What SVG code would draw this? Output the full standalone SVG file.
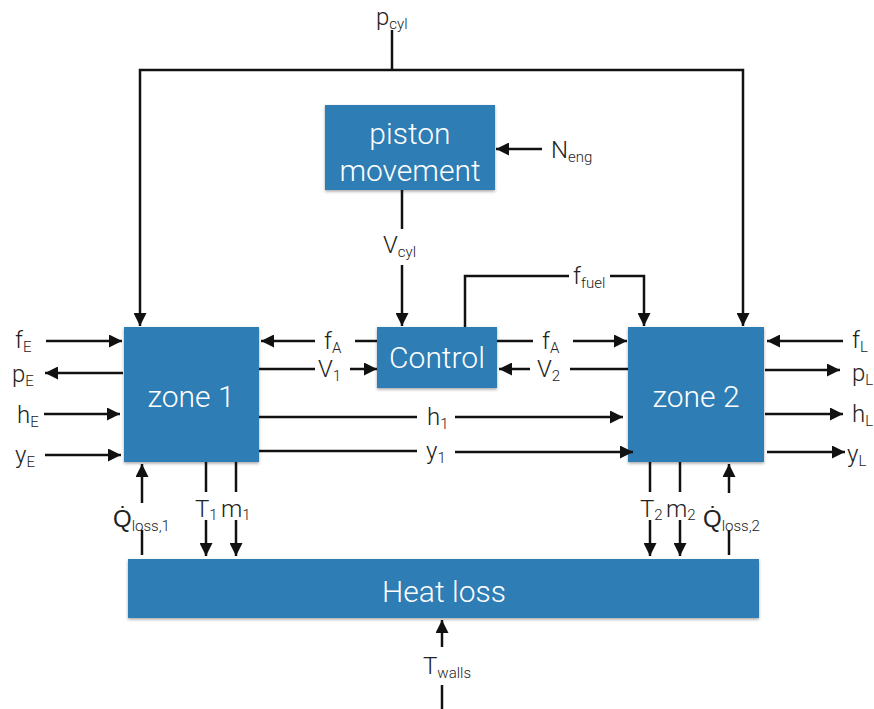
<svg xmlns="http://www.w3.org/2000/svg" width="874" height="709" viewBox="0 0 874 709">
<defs>
<marker id="ah" markerUnits="userSpaceOnUse" markerWidth="13" markerHeight="13" refX="13" refY="6.5" orient="auto">
<path d="M0,0 L13,6.5 L0,13 z" fill="#111"/>
</marker>
<filter id="sh" x="-5%" y="-5%" width="110%" height="120%">
<feDropShadow dx="0" dy="1.5" stdDeviation="1.5" flood-color="#000" flood-opacity="0.35"/>
</filter>
<style>
.box{fill:#2f7db5;filter:url(#sh)}
.nt{font-family:Roboto,"Liberation Sans",sans-serif;font-weight:300;font-size:30px;fill:#fff;text-anchor:middle}
.lb{font-family:Roboto,"Liberation Sans",sans-serif;font-weight:300;font-size:24px;fill:#222}
.sb{font-size:15px}
.c{fill:none;stroke:#111;stroke-width:2.5}
.a{marker-end:url(#ah)}
</style>
</defs>
<rect width="874" height="709" fill="#fff"/>

<g id="piston">
<rect class="box" x="325" y="105" width="170" height="85"/>
<text class="nt" x="410" y="144">piston</text>
<text class="nt" x="410" y="181">movement</text>
</g>
<g id="control">
<rect class="box" x="377" y="327" width="120" height="61"/>
<text class="nt" x="437" y="368">Control</text>
</g>
<g id="zone1">
<rect class="box" x="124" y="327" width="135" height="135"/>
<text class="nt" x="191" y="407">zone 1</text>
</g>
<g id="zone2">
<rect class="box" x="628" y="327" width="136" height="135"/>
<text class="nt" x="696" y="407">zone 2</text>
</g>
<g id="heatloss">
<rect class="box" x="128" y="559" width="631" height="59"/>
<text class="nt" x="444" y="602">Heat loss</text>
</g>

<g id="connectors">
<path class="c" d="M392,30 V70"/>
<path class="c a" d="M392,70 H140 V326"/>
<path class="c a" d="M392,70 H743 V326"/>
<path class="c a" d="M542,149 H496"/>
<path class="c" d="M402,190 V229"/>
<path class="c a" d="M402,265 V326"/>
<path class="c" d="M465,327 V276 H569"/>
<path class="c a" d="M610,276 H644 V326"/>
<path class="c" d="M377,341 H355"/>
<path class="c a" d="M315,341 H261"/>
<path class="c" d="M259,369 H315"/>
<path class="c a" d="M350,369 H377"/>
<path class="c" d="M497,341 H533"/>
<path class="c a" d="M573,341 H627"/>
<path class="c" d="M628,369 H570"/>
<path class="c a" d="M530,369 H499"/>
<path class="c" d="M259,417 H417"/>
<path class="c a" d="M455,417 H623"/>
<path class="c" d="M259,451 H417"/>
<path class="c a" d="M455,452 H633"/>
<path class="c a" d="M46,341 H122"/>
<path class="c a" d="M123,373 H45"/>
<path class="c a" d="M44,414 H120"/>
<path class="c a" d="M45,455 H121"/>
<path class="c a" d="M843,341 H767"/>
<path class="c a" d="M765,370 H840"/>
<path class="c a" d="M765,414 H843"/>
<path class="c a" d="M767,452 H845"/>
<path class="c a" d="M142,503 V464"/>
<path class="c" d="M142,530 V555"/>
<path class="c" d="M206,462 V492"/>
<path class="c a" d="M206,520 V556"/>
<path class="c" d="M236,462 V492"/>
<path class="c a" d="M236,520 V556"/>
<path class="c" d="M650,462 V492"/>
<path class="c a" d="M650,520 V556"/>
<path class="c" d="M680,462 V492"/>
<path class="c a" d="M680,520 V556"/>
<path class="c a" d="M729,493 V464"/>
<path class="c" d="M729,530 V555"/>
<path class="c a" d="M442,647 V620"/>
<path class="c" d="M442,685 V709"/>
</g>

<g id="labels">
<text class="lb" x="376" y="25">p<tspan class="sb" dy="4">cyl</tspan></text>
<text class="lb" x="551" y="158">N<tspan class="sb" dy="4">eng</tspan></text>
<text class="lb" x="383" y="253">V<tspan class="sb" dy="4">cyl</tspan></text>
<text class="lb" x="573" y="284">f<tspan class="sb" dy="4">fuel</tspan></text>
<text class="lb" x="324" y="349">f<tspan class="sb" dy="4">A</tspan></text>
<text class="lb" x="318" y="377">V<tspan class="sb" dy="4">1</tspan></text>
<text class="lb" x="542" y="349">f<tspan class="sb" dy="4">A</tspan></text>
<text class="lb" x="537" y="377">V<tspan class="sb" dy="4">2</tspan></text>
<text class="lb" x="427" y="425">h<tspan class="sb" dy="4">1</tspan></text>
<text class="lb" x="426" y="459">y<tspan class="sb" dy="4">1</tspan></text>
<text class="lb" x="15" y="348">f<tspan class="sb" dy="4">E</tspan></text>
<text class="lb" x="12" y="382">p<tspan class="sb" dy="4">E</tspan></text>
<text class="lb" x="17" y="423">h<tspan class="sb" dy="4">E</tspan></text>
<text class="lb" x="15" y="463">y<tspan class="sb" dy="4">E</tspan></text>
<text class="lb" x="852" y="348">f<tspan class="sb" dy="4">L</tspan></text>
<text class="lb" x="852" y="381">p<tspan class="sb" dy="4">L</tspan></text>
<text class="lb" x="852" y="422">h<tspan class="sb" dy="4">L</tspan></text>
<text class="lb" x="847" y="462">y<tspan class="sb" dy="4">L</tspan></text>
<text class="lb" x="113" y="527">Q&#x307;<tspan class="sb" dy="4">loss,1</tspan></text>
<text class="lb" x="195" y="517">T<tspan class="sb" dy="3">1</tspan></text>
<text class="lb" x="221" y="517">m<tspan class="sb" dy="3">1</tspan></text>
<text class="lb" x="640" y="517">T<tspan class="sb" dy="3">2</tspan></text>
<text class="lb" x="666" y="517">m<tspan class="sb" dy="3">2</tspan></text>
<text class="lb" x="703" y="527">Q&#x307;<tspan class="sb" dy="4">loss,2</tspan></text>
<text class="lb" x="423" y="674">T<tspan class="sb" dy="4">walls</tspan></text>
</g>
</svg>
